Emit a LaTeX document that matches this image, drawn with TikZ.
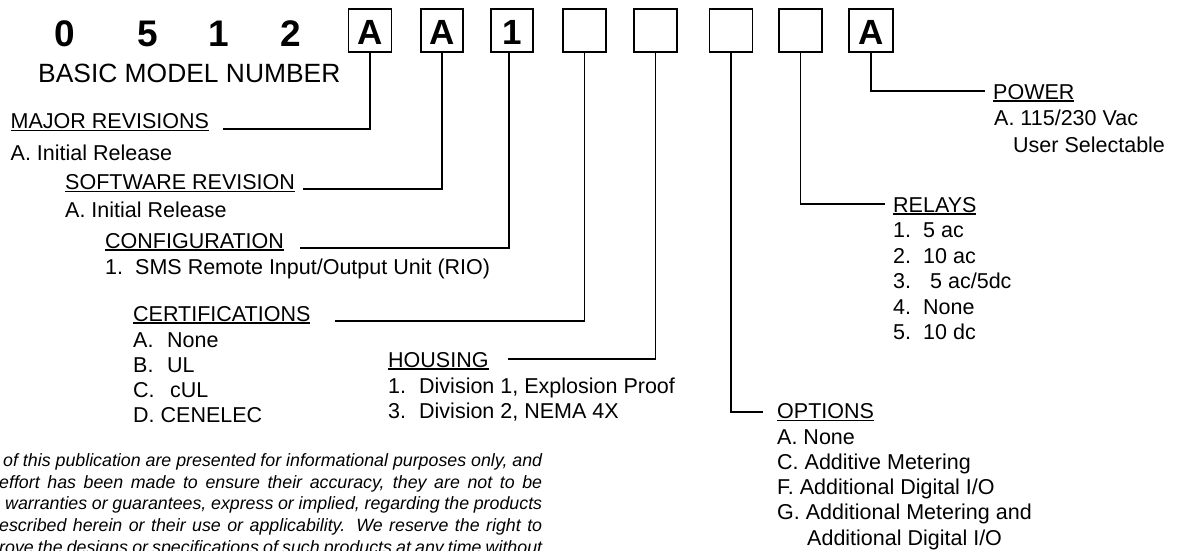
\documentclass[tikz,border=0pt]{standalone}
\usepackage{fontspec}
\setmainfont{Liberation Sans}
\newcommand{\myul}[1]{\setbox0\hbox{#1}\rlap{\rule[-2.6pt]{\wd0}{1.3pt}}\box0}
\begin{document}
\begin{tikzpicture}[x=1pt,y=-1pt,
  lbl/.style={anchor=base west,inner sep=0,font=\fontsize{21.5}{25}\selectfont},
  digit/.style={anchor=base,inner sep=0,font=\fontsize{37}{40}\selectfont\bfseries},
  codebox/.style={draw,line width=1.8pt,minimum width=43pt,minimum height=43pt,inner sep=0,
    text height=27.5pt,text depth=0pt,font=\fontsize{35}{40}\selectfont\bfseries},
  conn/.style={line width=1.8pt},
  disc/.style={anchor=base west,inner sep=0,font=\fontsize{17.8}{21}\selectfont\itshape}]
\useasboundingbox (0,0) rectangle (1183,550);
\fill[white] (0,0) rectangle (1183,550);

% basic model number digits
\node[digit] (d0) at (65,46.5) {0};
\node[digit] (d5) at (147.5,46.5) {5};
\node[digit] (d1) at (219,46.5) {1};
\node[digit] (d2) at (290.5,46.5) {2};
\node[lbl,font=\fontsize{26.4}{30}\selectfont] (basic) at (38,82) {BASIC MODEL NUMBER};

% code boxes
\node[codebox] (b1) at (370,30.5) {A};
\node[codebox,minimum width=42pt] (b2) at (442,30.5) {A};
\node[codebox,minimum width=42pt] (b3) at (512,30.5) {1};
\node[codebox] (b4) at (584.5,30.5) {};
\node[codebox] (b5) at (655.5,30.5) {};
\node[codebox] (b6) at (731,30.5) {};
\node[codebox] (b7) at (800.5,30.5) {};
\node[codebox,minimum width=44pt] (b8) at (871,30.5) {A};

% major revisions
\node[lbl] (major) at (10.5,128.5) {\myul{MAJOR REVISIONS}};
\node[lbl] (majA) at (10.5,160) {A. Initial Release};
% software revision
\node[lbl] (soft) at (65,189.5) {\myul{SOFTWARE REVISION}};
\node[lbl] (softA) at (65,217) {A. Initial Release};
% configuration
\node[lbl] (conf) at (105,248) {\myul{CONFIGURATION}};
\node[lbl] (conf1) at (105,274.5) {\makebox[30pt][l]{1.}SMS Remote Input/Output Unit (RIO)};
% certifications
\node[lbl] (cert) at (133,321) {\myul{CERTIFICATIONS}};
\node[lbl] (certA) at (133,347) {\makebox[34pt][l]{A.}None};
\node[lbl] (certB) at (133,372) {\makebox[34pt][l]{B.}UL};
\node[lbl] (certC) at (133,397) {\makebox[37pt][l]{C.}cUL};
\node[lbl] (certD) at (133,422.5) {D. CENELEC};
% housing
\node[lbl] (hous) at (388,367) {\myul{HOUSING}};
\node[lbl] (hous1) at (388,393) {\makebox[31pt][l]{1.}Division 1, Explosion Proof};
\node[lbl] (hous3) at (388,418) {\makebox[31pt][l]{3.}Division 2, NEMA 4X};
% options
\node[lbl] (opt) at (777,418.5) {\myul{OPTIONS}};
\node[lbl] (optA) at (777,444) {A. None};
\node[lbl] (optC) at (777,469.5) {C. Additive Metering};
\node[lbl] (optF) at (777,494.5) {F. Additional Digital I/O};
\node[lbl] (optG) at (777,519.5) {G. Additional Metering and};
\node[lbl] (optG2) at (807,545) {Additional Digital I/O};
% relays
\node[lbl] (rel) at (893,212) {\myul{RELAYS}};
\node[lbl] (rel1) at (893,237.5) {\makebox[30pt][l]{1.}5 ac};
\node[lbl] (rel2) at (893,263) {\makebox[30pt][l]{2.}10 ac};
\node[lbl] (rel3) at (893,288.5) {\makebox[37pt][l]{3.}5 ac/5dc};
\node[lbl] (rel4) at (893,314) {\makebox[30pt][l]{4.}None};
\node[lbl] (rel5) at (893,339.5) {\makebox[30pt][l]{5.}10 dc};
% power
\node[lbl] (pow) at (993,99) {\myul{POWER}};
\node[lbl] (powA) at (994,125.5) {A. 115/230 Vac};
\node[lbl] (powU) at (1013,152) {User Selectable};

% connectors
\coordinate (e1) at (223,129);
\coordinate (e2) at (303,189);
\coordinate (e3) at (300,248);
\coordinate (e4) at (335,321);
\coordinate (e5) at (508,359);
\coordinate (e6) at (763,412);
\coordinate (e7) at (885,204);
\coordinate (e8) at (985,91);
\draw[conn] (b1.south) |- (e1);
\draw[conn] (b2.south) |- (e2);
\draw[conn] ([xshift=-3pt]b3.south) |- (e3);
\draw[conn] (b4.south) |- (e4);
\draw[conn] (b5.south) |- (e5);
\draw[conn] (b6.south) |- (e6);
\draw[conn] (b7.south) |- (e7);
\draw[conn] (b8.south) |- (e8);

% disclaimer (cut off at the left and bottom edges, as in the source)
\node[disc] (t1) at (3,466) {\makebox[539pt][s]{of this publication are presented for informational purposes only, and}};
\node[disc] (t2) at (-1,488) {\makebox[543pt][s]{effort has been made to ensure their accuracy, they are not to be}};
\node[disc] (t3) at (5,509.5) {\makebox[537pt][s]{warranties or guarantees, express or implied, regarding the products}};
\node[disc] (t4) at (-1,531) {\makebox[543pt][s]{escribed herein or their use or applicability. We reserve the right to}};
\node[disc] (t5) at (-1,553) {\makebox[543pt][s]{rove the designs or specifications of such products at any time without}};
\end{tikzpicture}
\end{document}
